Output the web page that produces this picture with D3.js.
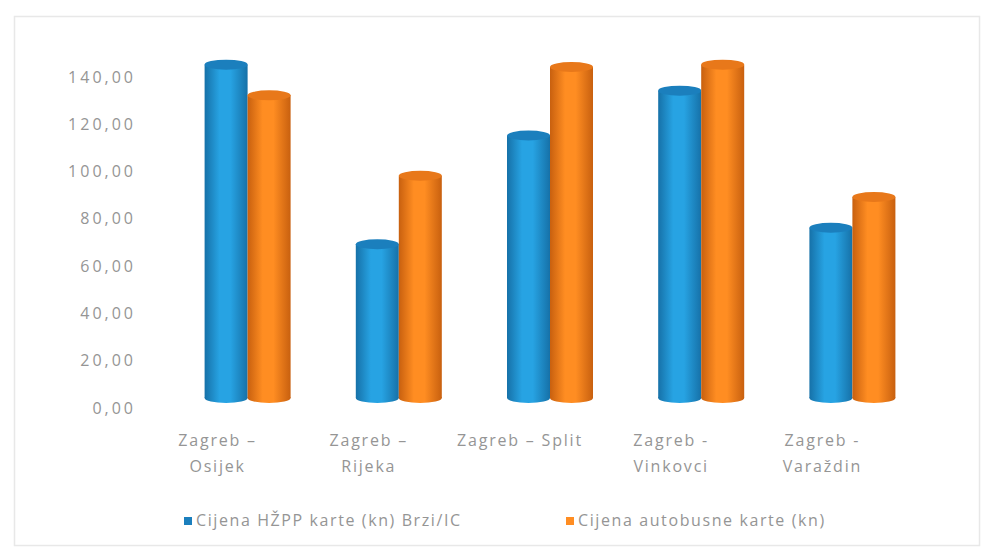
<!DOCTYPE html>
<html>
<head>
<meta charset="utf-8">
<script src="https://cdn.jsdelivr.net/npm/d3@7"></script>
<style>
    body { margin: 0; background: #fff; }
    text { font-family: "Open Sans", sans-serif; fill: #959595; }
</style>
</head>
<body>
<div id="chart"></div>
<script>
// Data
const categories = ["Zagreb – Osijek", "Zagreb – Rijeka", "Zagreb – Split", "Zagreb - Vinkovci", "Zagreb - Varaždin"];
const labelLines = [["Zagreb –", "Osijek"], ["Zagreb –", "Rijeka"], ["Zagreb – Split"], ["Zagreb -", "Vinkovci"], ["Zagreb -", "Varaždin"]];
const seriesNames = ["Cijena HŽPP karte (kn) Brzi/IC", "Cijena autobusne karte (kn)"];
const trainPrices = [141, 65, 111, 130, 72];
const busPrices = [128, 94, 140, 141, 85];
const yTicks = [0, 20, 40, 60, 80, 100, 120, 140];

const colors = {
    blue: { mid: "#27a3e3", edge: "#1671a8", top: "#1b7fbd" },
    orange: { mid: "#ff8d22", edge: "#c8600f", top: "#e8781a" }
};

const width = 981, height = 551;

const svg = d3.select("#chart")
    .append("svg")
    .attr("width", width)
    .attr("height", height);

// chart frame
svg.append("rect")
    .attr("x", 14.5).attr("y", 16.5)
    .attr("width", 965).attr("height", 529)
    .attr("fill", "none")
    .attr("stroke", "#e8e8e8")
    .attr("stroke-width", 1.5);

// Scales
const x0 = d3.scaleBand()
    .domain(categories)
    .range([172, 928]);

const x1 = d3.scaleBand()
    .domain(seriesNames)
    .range([x0.bandwidth() / 2 - 43, x0.bandwidth() / 2 + 43]);

const y = d3.scaleLinear()
    .domain([0, 140])
    .range([398, 67]);

// Y axis (labels sit on the back wall, a bit lower than the bars)
const yAxis = svg.append("g")
    .attr("transform", "translate(136,10)")
    .call(d3.axisLeft(y)
        .tickValues(yTicks)
        .tickSize(0)
        .tickPadding(0)
        .tickFormat(d => d3.format(".2f")(d).replace(".", ",")));
yAxis.select(".domain").remove();
yAxis.selectAll("text")
    .style("font-size", "16px")
    .style("letter-spacing", "3px")
    .style("fill", "#959595");

// Gradients for cylinder shading
const defs = svg.append("defs");
Object.entries(colors).forEach(([key, c]) => {
    const g = defs.append("linearGradient")
        .attr("id", `grad-${key}`)
        .attr("x1", "0%").attr("x2", "100%")
        .attr("y1", "0%").attr("y2", "0%");
    g.append("stop").attr("offset", "0%").attr("stop-color", c.edge);
    g.append("stop").attr("offset", "35%").attr("stop-color", c.mid);
    g.append("stop").attr("offset", "60%").attr("stop-color", c.mid);
    g.append("stop").attr("offset", "100%").attr("stop-color", c.edge);
});

const rows = categories.map((cat, i) => ({
    cat,
    values: [
        { series: seriesNames[0], value: trainPrices[i], key: "blue" },
        { series: seriesNames[1], value: busPrices[i], key: "orange" }
    ]
}));

const ry = 5;

const group = svg.append("g")
    .selectAll("g")
    .data(rows)
    .enter().append("g")
    .attr("transform", d => `translate(${x0(d.cat)},0)`);

const bar = group.selectAll("g.bar")
    .data(d => d.values)
    .enter().append("g")
    .attr("class", "bar");

// bottom ellipse
bar.append("ellipse")
    .attr("cx", d => x1(d.series) + x1.bandwidth() / 2)
    .attr("cy", y(0))
    .attr("rx", x1.bandwidth() / 2)
    .attr("ry", ry)
    .attr("fill", d => `url(#grad-${d.key})`);

// body
bar.append("rect")
    .attr("x", d => x1(d.series))
    .attr("y", d => y(d.value))
    .attr("width", x1.bandwidth())
    .attr("height", d => y(0) - y(d.value))
    .attr("fill", d => `url(#grad-${d.key})`);

// top ellipse
bar.append("ellipse")
    .attr("cx", d => x1(d.series) + x1.bandwidth() / 2)
    .attr("cy", d => y(d.value))
    .attr("rx", x1.bandwidth() / 2)
    .attr("ry", ry)
    .attr("fill", d => colors[d.key].top);

// Category labels
const label = svg.append("g")
    .selectAll("text")
    .data(categories)
    .enter().append("text")
    .attr("x", d => x0(d) + x0.bandwidth() / 2 - 30)
    .attr("y", 446)
    .attr("text-anchor", "middle")
    .style("font-size", "16px")
    .style("letter-spacing", "1.8px");

label.each(function(d, i) {
    const t = d3.select(this);
    labelLines[i].forEach((line, j) => {
        t.append("tspan")
            .attr("x", x0(d) + x0.bandwidth() / 2 - 30)
            .attr("dy", j === 0 ? 0 : 26)
            .text(line);
    });
});

// Legend
const legendX = [184, 566];
const legend = svg.append("g")
    .selectAll("g")
    .data(seriesNames)
    .enter().append("g")
    .attr("transform", (d, i) => `translate(${legendX[i]},521)`);

legend.append("rect")
    .attr("x", 0).attr("y", -4)
    .attr("width", 8).attr("height", 8)
    .attr("fill", (d, i) => i === 0 ? colors.blue.top : colors.orange.mid);

legend.append("text")
    .attr("x", 12)
    .attr("y", 5)
    .style("font-size", "16px")
    .style("letter-spacing", "1.6px")
    .text(d => d);
</script>
</body>
</html>
